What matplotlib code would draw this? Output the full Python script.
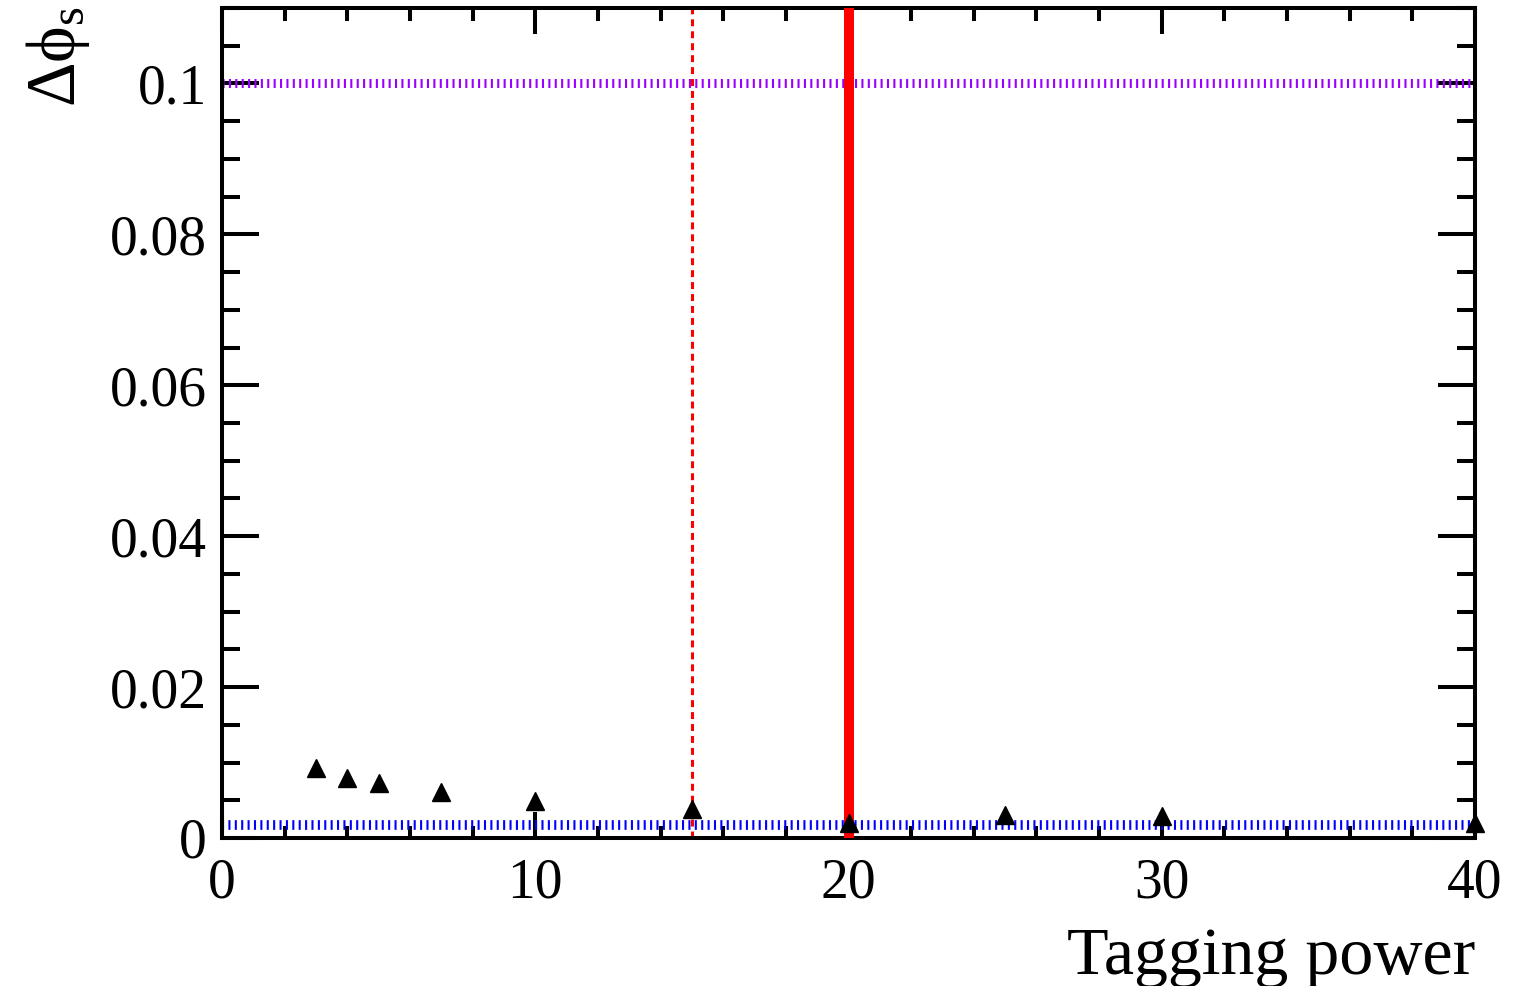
import matplotlib
matplotlib.use("Agg")
import matplotlib.pyplot as plt
from matplotlib.ticker import MultipleLocator, FixedLocator

# Data
tagging_power = [3, 4, 5, 7, 10, 15, 20, 25, 30, 40]
delta_phis = [0.0093, 0.0079, 0.0073, 0.0061, 0.0049, 0.0039, 0.0020, 0.0031, 0.0029, 0.0020]
hline_low = 0.0017
hline_high = 0.1
vline_dashed = 15
vline_solid = 20
x_ticks = [0, 10, 20, 30, 40]
y_ticks = [0, 0.02, 0.04, 0.06, 0.08, 0.1]
y_tick_labels = ["0", "0.02", "0.04", "0.06", "0.08", "0.1"]

plt.rcParams['font.family'] = ['Liberation Serif', 'DejaVu Serif']
plt.rcParams['mathtext.fontset'] = 'custom'
plt.rcParams['mathtext.rm'] = 'Liberation Serif'
plt.rcParams['mathtext.it'] = 'Liberation Serif:italic'
plt.rcParams['mathtext.bf'] = 'Liberation Serif:bold'
plt.rcParams['lines.scale_dashes'] = False

fig = plt.figure(figsize=(15.34, 9.86), dpi=100)
ax = fig.add_axes([222/1534, 1-838/986, (1475-222)/1534, (838-8)/986])
ax.set_xlim(0, 40)
ax.set_ylim(0, 0.11)

ax.axhline(hline_low, color='#0000ff', lw=7, ls=(0, (1.5, 3.1)), dash_capstyle='butt', zorder=2)
ax.axhline(hline_high, color='#9b00ff', lw=6.5, ls=(0, (1.5, 3.1)), dash_capstyle='butt', zorder=2)
ax.axvline(vline_dashed, color='#ff0000', lw=2.2, ls=(0, (5, 3.6)), zorder=2)
ax.axvline(vline_solid, color='#ff0000', lw=7.2, zorder=3)
ax.plot(tagging_power, delta_phis, ls='none', marker='^', color='black', markersize=13.5, zorder=4, clip_on=False)

ax.xaxis.set_major_locator(FixedLocator(x_ticks))
ax.xaxis.set_minor_locator(MultipleLocator(2))
ax.yaxis.set_major_locator(FixedLocator(y_ticks))
ax.yaxis.set_minor_locator(MultipleLocator(0.005))
ax.set_yticklabels(y_tick_labels)

for s in ax.spines.values():
    s.set_linewidth(2.9)
ax.tick_params(axis='both', which='both', direction='in', top=True, right=True, width=2.9, labelsize=40)
ax.tick_params(axis='x', which='major', length=18.5, pad=14)
ax.tick_params(axis='x', which='minor', length=9)
ax.tick_params(axis='y', which='major', length=26.5, pad=11)
ax.tick_params(axis='y', which='minor', length=13)

fig.text(1475/1534, 12/986, 'Tagging power', ha='right', va='baseline', fontsize=49)
fig.text(58/1534, 1-6/986, r'$\mathrm{\Delta}\mathrm{ϕ}_{\mathrm{s}}$', rotation=90, ha='center', va='top', fontsize=50)

fig.savefig('out.png', dpi=100)
